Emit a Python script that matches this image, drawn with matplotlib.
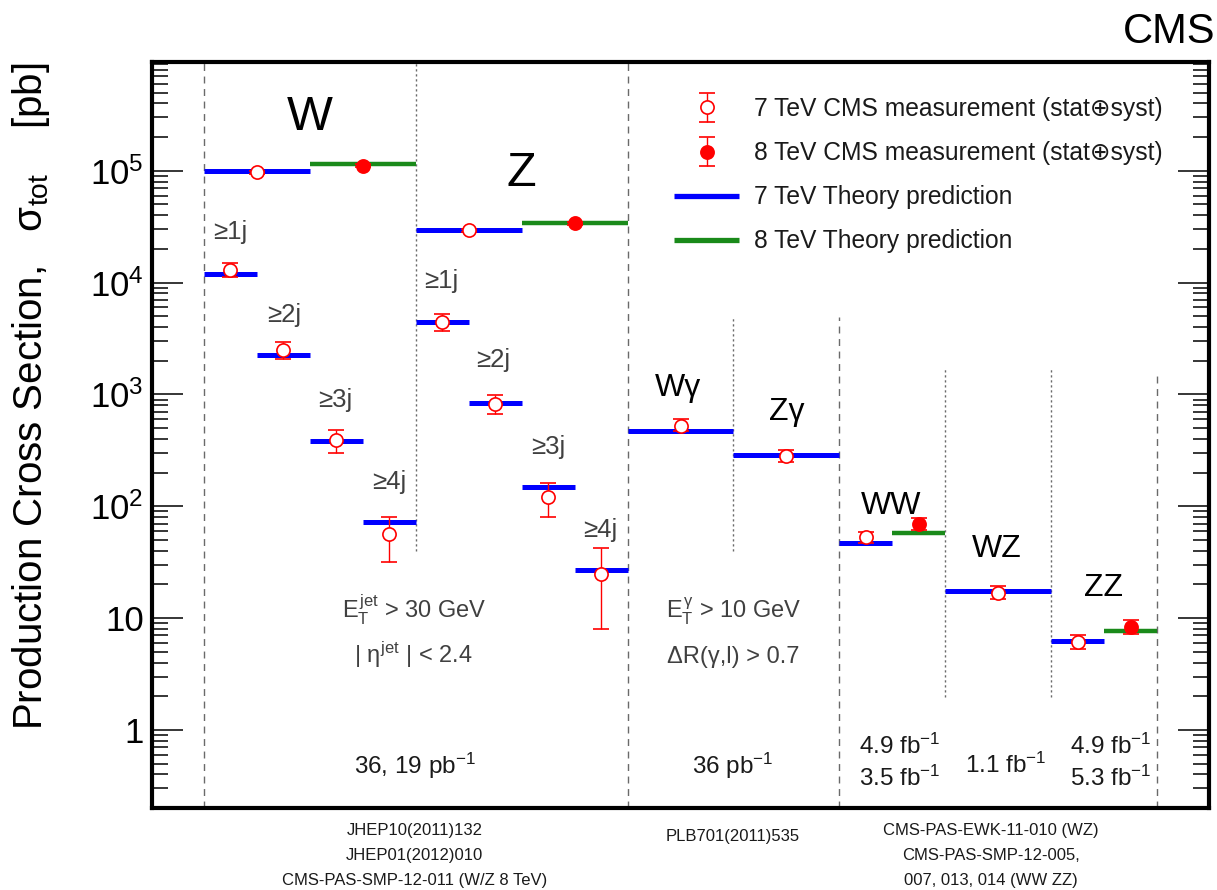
import numpy as np
import matplotlib
matplotlib.use("Agg")
import matplotlib.pyplot as plt
from matplotlib.lines import Line2D
from matplotlib.container import ErrorbarContainer
from matplotlib.legend_handler import HandlerErrorbar
from matplotlib.ticker import FixedLocator, LogLocator, NullFormatter, FuncFormatter

plt.rcParams['font.family'] = ['Liberation Sans', 'DejaVu Sans']
plt.rcParams['mathtext.fontset'] = 'custom'
plt.rcParams['mathtext.rm'] = 'Liberation Sans'
plt.rcParams['mathtext.it'] = 'Liberation Sans'
plt.rcParams['mathtext.bf'] = 'Liberation Sans:bold'
plt.rcParams['mathtext.sf'] = 'Liberation Sans'

# ---------------- data (pb) ----------------
# 7 TeV measurements: bin index -> value, err_up, err_down
meas7_bins = ['W', 'W1j', 'W2j', 'W3j', 'W4j', 'Z', 'Z1j', 'Z2j', 'Z3j', 'Z4j',
              'Wg', 'Zg', 'WW', 'WZ', 'ZZ']
meas7_val = [97000, 13100, 2490, 390, 56.3, 29500, 4400, 819, 122, 24.9,
             527, 281, 52.8, 16.9, 6.12]
meas7_hi = [100000, 15000, 2940, 480, 80.4, 30400, 5200, 993, 161, 42.5,
            598, 319, 58.5, 19.3, 7.03]
meas7_lo = [94000, 11300, 2060, 301, 31.6, 28600, 3720, 666, 79.6, 7.9,
            470, 250, 47.0, 14.7, 5.33]

meas8_bins = ['W8', 'Z8', 'WW8', 'ZZ8']
meas8_val = [111000, 34000, 69.2, 8.34]
meas8_hi = [114000, 35000, 79.1, 9.60]
meas8_lo = [108000, 33000, 61.6, 7.21]

theo7_bins = ['W', 'W1j', 'W2j', 'W3j', 'W4j', 'Z', 'Z1j', 'Z2j', 'Z3j', 'Z4j',
              'Wg', 'Zg', 'WW', 'WZ', 'ZZ']
theo7_val = [99000, 11900, 2230, 382, 71.6, 29700, 4450, 845, 149, 26.9,
             468, 290, 47.0, 17.5, 6.27]
theo8_bins = ['W8', 'Z8', 'WW8', 'ZZ8']
theo8_val = [116000, 34400, 57.4, 7.60]

# ---------------- layout (bin edges on x axis) ----------------
bin_edges = {
    'W': (0, 1), 'W8': (1, 2),
    'W1j': (0, 0.5), 'W2j': (0.5, 1), 'W3j': (1, 1.5), 'W4j': (1.5, 2),
    'Z': (2, 3), 'Z8': (3, 4),
    'Z1j': (2, 2.5), 'Z2j': (2.5, 3), 'Z3j': (3, 3.5), 'Z4j': (3.5, 4),
    'Wg': (4, 5), 'Zg': (5, 6),
    'WW': (6, 6.5), 'WW8': (6.5, 7), 'WZ': (7, 8),
    'ZZ': (8, 8.5), 'ZZ8': (8.5, 9),
}

BLUE = '#0000ff'
GREEN = '#1a8a1a'
RED = '#ff0000'
GRAY_TXT = '#404040'
LINEC = '#6a6a6a'

fig = plt.figure(figsize=(12.17, 8.90), dpi=100)
ax = fig.add_axes([152/1217, 1-808/890, (1209-152)/1217, (808-62)/890])
ax.set_yscale('log')
ax.set_xlim(-0.49, 9.49)
ax.set_ylim(0.2, 9.4e5)

# vertical separators: (x, ymin, ymax, style)
sep_x = [0, 2, 4, 5, 6, 7, 8, 9]
sep_lo = [0.2, 40, 0.2, 40, 0.2, 1.95, 1.95, 0.2]
sep_hi = [9.4e5, 9.4e5, 9.4e5, 4900, 4900, 1760, 1760, 1620]
sep_dashed = [True, False, True, False, True, False, False, True]
for x, lo, hi, d in zip(sep_x, sep_lo, sep_hi, sep_dashed):
    ls = (0, (5.0, 4.0)) if d else (0, (1.6, 2.0))
    ax.vlines(x, lo, hi, colors=LINEC, linestyles=[ls], lw=1.0, zorder=1)

# theory lines
for b, v in zip(theo7_bins, theo7_val):
    x0, x1 = bin_edges[b]
    lc = ax.hlines(v, x0, x1, colors=BLUE, lw=3.6, zorder=3)
    lc.set_capstyle('butt')
for b, v in zip(theo8_bins, theo8_val):
    x0, x1 = bin_edges[b]
    lc = ax.hlines(v, x0, x1, colors=GREEN, lw=3.2, zorder=3)
    lc.set_capstyle('butt')

# measurements
x7 = np.array([np.mean(bin_edges[b]) for b in meas7_bins])
v7 = np.array(meas7_val)
e7 = np.vstack([v7 - np.array(meas7_lo), np.array(meas7_hi) - v7])
eb7 = ax.errorbar(x7, v7, yerr=e7, fmt='o', ms=9.5, mfc='white', mec=RED, mew=1.2,
                  ecolor=RED, elinewidth=1.0, capsize=6, capthick=1.0, zorder=4)
x8 = np.array([np.mean(bin_edges[b]) for b in meas8_bins])
v8 = np.array(meas8_val)
e8 = np.vstack([v8 - np.array(meas8_lo), np.array(meas8_hi) - v8])
eb8 = ax.errorbar(x8, v8, yerr=e8, fmt='o', ms=9.5, mfc=RED, mec=RED, mew=1.2,
                  ecolor=RED, elinewidth=1.0, capsize=6, capthick=1.0, zorder=4)

# ---------------- axes styling ----------------
for s in ax.spines.values():
    s.set_linewidth(3.0)
ax.xaxis.set_ticks([])
ax.yaxis.set_major_locator(FixedLocator([1, 10, 1e2, 1e3, 1e4, 1e5]))
ax.yaxis.set_minor_locator(LogLocator(base=10, subs=np.arange(2, 10), numticks=20))
ax.yaxis.set_minor_formatter(NullFormatter())
tick_labels = {1: '1', 10: '10', 100: '$10^{2}$', 1000: '$10^{3}$',
               10000: '$10^{4}$', 100000: '$10^{5}$'}
ax.yaxis.set_major_formatter(FuncFormatter(lambda v, p: tick_labels.get(int(round(v)), '')))
ax.tick_params(axis='y', which='major', direction='in', length=22.5, width=1.1,
               labelsize=25, pad=6, left=True, right=True)
ax.tick_params(axis='y', which='minor', direction='in', length=11.5, width=1.1,
               left=True, right=True)

fig.text(31/1217, 1-396/890, 'Production Cross Section,   σ$_{\\rm tot}$    [pb]',
         rotation=90, ha='center', va='center', fontsize=29)
fig.text(0.999, 1-43/890, 'CMS', ha='right', va='baseline', fontsize=30)

# ---------------- labels in plot ----------------
big_labels = [('W', 1.0, 2.31e5), ('Z', 3.0, 7.24e4)]
for t, x, y in big_labels:
    ax.text(x, y, t, ha='center', va='baseline', fontsize=35, color='black')

jet_labels = [('≥1j', 0.245, 2.43e4), ('≥2j', 0.756, 4460), ('≥3j', 1.245, 766),
              ('≥4j', 1.75, 144), ('≥1j', 2.24, 8970), ('≥2j', 2.73, 1770),
              ('≥3j', 3.25, 292), ('≥4j', 3.74, 53.3)]
for t, x, y in jet_labels:
    ax.text(x, y, t, ha='center', va='baseline', fontsize=18.5, color=GRAY_TXT)

proc_labels = [('Wγ', 4.48, 966), ('Zγ', 5.5, 593), ('WW', 6.49, 85),
               ('WZ', 7.49, 35), ('ZZ', 8.49, 15.9)]
for t, x, y in proc_labels:
    ax.text(x, y, t, ha='center', va='baseline', fontsize=23, color='black')

cut_labels = [('$E_{T}^{jet}$ > 30 GeV', 1.99, 9.9), ('| $η^{jet}$ | < 2.4', 1.98, 3.97),
              ('$E_{T}^{γ}$ > 10 GeV', 5.0, 9.9), ('ΔR(γ,l) > 0.7', 5.0, 3.97)]
for t, x, y in cut_labels:
    ax.text(x, y, t, ha='center', va='baseline', fontsize=17, color=GRAY_TXT)

lumi_labels = [('36, 19 pb$^{-1}$', 1.99, 0.40), ('36 pb$^{-1}$', 4.99, 0.40),
               ('4.9 fb$^{-1}$', 6.57, 0.61), ('3.5 fb$^{-1}$', 6.57, 0.317),
               ('1.1 fb$^{-1}$', 7.57, 0.41),
               ('4.9 fb$^{-1}$', 8.56, 0.61), ('5.3 fb$^{-1}$', 8.56, 0.317)]
for t, x, y in lumi_labels:
    ax.text(x, y, t, ha='center', va='baseline', fontsize=17.5, color='#1a1a1a')

ref_labels = [('JHEP10(2011)132', 1.99, 835), ('JHEP01(2012)010', 1.99, 860),
              ('CMS-PAS-SMP-12-011 (W/Z 8 TeV)', 1.99, 885),
              ('PLB701(2011)535', 4.99, 841),
              ('CMS-PAS-EWK-11-010 (WZ)', 7.43, 835), ('CMS-PAS-SMP-12-005,', 7.43, 860),
              ('007, 013, 014 (WW ZZ)', 7.43, 885)]
trans = matplotlib.transforms.blended_transform_factory(ax.transData, fig.transFigure)
for t, x, ypix in ref_labels:
    ax.text(x, 1 - ypix/890, t, ha='center', va='baseline', fontsize=12,
            color='#1a1a1a', transform=trans, clip_on=False)

# ---------------- legend ----------------
h_blue = Line2D([], [], color=BLUE, lw=3.8, solid_capstyle='butt')
h_green = Line2D([], [], color=GREEN, lw=3.8, solid_capstyle='butt')
leg = ax.legend([eb7, eb8, h_blue, h_green],
                ['7 TeV CMS measurement (stat⊕syst)', '8 TeV CMS measurement (stat⊕syst)',
                 '7 TeV Theory prediction', '8 TeV Theory prediction'],
                loc='upper left', bbox_to_anchor=((674-152)/1057, (808-97)/746),
                frameon=False, fontsize=17.7, handlelength=2.65, handletextpad=0.6,
                labelspacing=0.82, borderpad=0, borderaxespad=0,
                handler_map={ErrorbarContainer: HandlerErrorbar(yerr_size=0.6)})
for t in leg.get_texts():
    t.set_color('#1a1a1a')

fig.savefig('out.png', dpi=100)
